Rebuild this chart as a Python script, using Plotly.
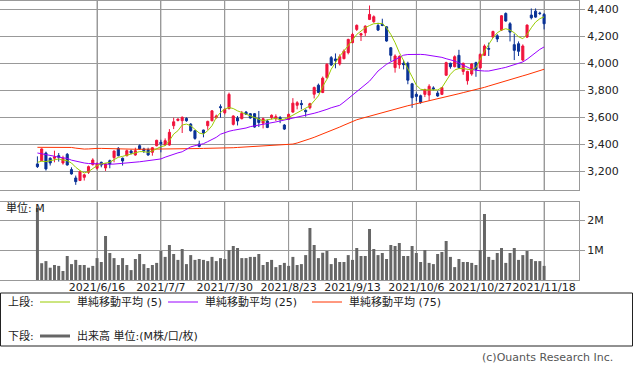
import plotly.graph_objects as go

# ---- data -------------------------------------------------------------
month_days = [
    (5, [27, 28, 31]),
    (6, [1, 2, 3, 4, 7, 8, 9, 10, 11, 14, 15, 16, 17, 18, 21, 22, 23, 24, 25, 28, 29, 30]),
    (7, [1, 2, 5, 6, 7, 8, 9, 12, 13, 14, 15, 16, 19, 20, 21, 26, 27, 28, 29, 30]),
    (8, [2, 3, 4, 5, 6, 10, 11, 12, 13, 16, 17, 18, 19, 20, 23, 24, 25, 26, 27, 30, 31]),
    (9, [1, 2, 3, 6, 7, 8, 9, 10, 13, 14, 15, 16, 17, 21, 22, 24, 27, 28, 29, 30]),
    (10, [1, 4, 5, 6, 7, 8, 11, 12, 13, 14, 15, 18, 19, 20, 21, 22, 25, 26, 27, 28, 29]),
    (11, [1, 2, 4, 5, 8, 9, 10, 11, 12, 15, 16, 17, 18]),
]
dates = [f"2021/{m}/{d}" for m, ds in month_days for d in ds]

tick_labels = ["2021/6/16", "2021/7/7", "2021/7/30", "2021/8/23",
               "2021/9/13", "2021/10/6", "2021/10/27", "2021/11/18"]

open_ = [3255, 3279, 3336, 3297, 3297, 3316, 3262, 3326, 3213, 3151,
         3132, 3156, 3193, 3250, 3223, 3267, 3225, 3279, 3302, 3370,
         3297, 3316, 3351, 3321, 3390, 3366, 3361, 3341, 3390, 3415,
         3395, 3395, 3538, 3577, 3575, 3592, 3550, 3501, 3402, 3506,
         3538, 3575, 3598, 3679, 3634, 3664, 3548, 3595, 3590, 3639,
         3627, 3627, 3590, 3557, 3573, 3598, 3590, 3598, 3543, 3585,
         3639, 3689, 3703, 3652, 3671, 3771, 3838, 3784, 3894, 4042,
         4032, 3995, 4034, 4079, 4153, 4251, 4209, 4226, 4325, 4308,
         4280, 4290, 4270, 4115, 3968, 3990, 4000, 4000, 3848, 3770,
         3760, 3770, 3765, 3818, 3780, 3770, 3912, 4000, 3975, 4059,
         3940, 3871, 3921, 4005, 3966, 4059, 4110, 4194, 4204, 4246,
         4369, 4293, 4138, 4145, 4024, 4194, 4357, 4386, 4372, 4362]
high = [3311, 3370, 3346, 3304, 3353, 3336, 3316, 3336, 3230, 3169,
        3206, 3181, 3243, 3297, 3267, 3272, 3262, 3287, 3353, 3380,
        3302, 3361, 3361, 3375, 3400, 3375, 3375, 3380, 3434, 3434,
        3444, 3513, 3597, 3592, 3607, 3600, 3557, 3506, 3427, 3508,
        3575, 3653, 3620, 3696, 3664, 3783, 3615, 3610, 3647, 3647,
        3632, 3632, 3647, 3598, 3585, 3622, 3622, 3610, 3550, 3627,
        3742, 3720, 3728, 3659, 3708, 3828, 3850, 3902, 4000, 4054,
        4073, 4066, 4103, 4182, 4226, 4288, 4226, 4281, 4428, 4355,
        4300, 4330, 4275, 4120, 4066, 4060, 4025, 4012, 3855, 3785,
        3768, 3812, 3845, 3830, 3795, 3825, 4012, 4005, 4059, 4100,
        4005, 3945, 4002, 4012, 4074, 4140, 4153, 4241, 4216, 4357,
        4377, 4305, 4219, 4162, 4140, 4288, 4406, 4406, 4382, 4372]
low = [3225, 3275, 3206, 3243, 3267, 3272, 3250, 3243, 3176, 3100,
       3129, 3132, 3181, 3243, 3213, 3230, 3203, 3223, 3267, 3311,
       3243, 3311, 3326, 3316, 3361, 3336, 3316, 3316, 3385, 3341,
       3390, 3390, 3513, 3570, 3484, 3567, 3494, 3434, 3378, 3452,
       3508, 3570, 3590, 3598, 3622, 3659, 3540, 3540, 3585, 3617,
       3590, 3523, 3528, 3518, 3520, 3585, 3573, 3557, 3506, 3580,
       3634, 3659, 3659, 3605, 3659, 3740, 3779, 3779, 3887, 3980,
       3963, 3983, 4030, 4066, 4148, 4239, 4165, 4202, 4320, 4300,
       4239, 4275, 4160, 4015, 3931, 3960, 3955, 3845, 3670, 3720,
       3700, 3750, 3722, 3800, 3752, 3765, 3907, 3960, 3970, 3960,
       3915, 3842, 3908, 3900, 3958, 4054, 4054, 4189, 4157, 4239,
       4308, 4162, 4024, 4054, 4015, 4187, 4325, 4337, 4357, 4251]
close = [3235, 3366, 3218, 3262, 3307, 3304, 3297, 3247, 3181, 3124,
         3198, 3174, 3235, 3284, 3255, 3247, 3255, 3255, 3351, 3316,
         3277, 3353, 3336, 3353, 3366, 3353, 3321, 3375, 3430, 3405,
         3427, 3489, 3567, 3587, 3600, 3575, 3501, 3444, 3385, 3484,
         3570, 3648, 3610, 3672, 3659, 3770, 3610, 3573, 3630, 3622,
         3595, 3528, 3561, 3590, 3525, 3615, 3605, 3585, 3513, 3622,
         3705, 3708, 3694, 3642, 3701, 3821, 3784, 3890, 3993, 3988,
         4020, 4049, 4091, 4177, 4214, 4281, 4219, 4275, 4362, 4345,
         4246, 4280, 4165, 4059, 4054, 4050, 3990, 3875, 3745, 3755,
         3710, 3805, 3830, 3810, 3758, 3820, 4005, 3975, 4049, 3968,
         4000, 3940, 3995, 3955, 4066, 4128, 4105, 4236, 4180, 4352,
         4313, 4231, 4096, 4089, 4128, 4283, 4337, 4342, 4369, 4293]

ma5 = [3267, 3275, 3272, 3279, 3284, 3292, 3284, 3279, 3262, 3230,
       3206, 3188, 3198, 3223, 3243, 3255, 3262, 3267, 3287, 3304,
       3311, 3321, 3329, 3336, 3346, 3346, 3341, 3351, 3366, 3383,
       3390, 3427, 3476, 3501, 3543, 3550, 3538, 3508, 3484, 3476,
       3501, 3538, 3599, 3636, 3661, 3673, 3665, 3648, 3636, 3624,
       3611, 3599, 3587, 3574, 3582, 3587, 3592, 3582, 3587, 3599,
       3616, 3636, 3648, 3665, 3685, 3722, 3759, 3828, 3882, 3956,
       4005, 4054, 4091, 4128, 4172, 4214, 4239, 4263, 4280, 4293,
       4295, 4295, 4263, 4214, 4153, 4079, 4020, 3965, 3900, 3838,
       3808, 3803, 3803, 3801, 3803, 3820, 3870, 3919, 3951, 3961,
       3961, 3956, 3951, 3968, 4030, 4091, 4140, 4189, 4226, 4246,
       4256, 4246, 4226, 4197, 4182, 4214, 4263, 4305, 4330, 4344]
ma25 = [3336, 3331, 3327, 3321, 3312, 3305, 3300, 3296, 3283, 3275,
        3267, 3262, 3258, 3256, 3255, 3254, 3252, 3253, 3254, 3256,
        3258, 3260, 3264, 3267, 3271, 3275, 3279, 3282, 3286, 3292,
        3305, 3316, 3329, 3337, 3345, 3366, 3381, 3390, 3395, 3405,
        3420, 3435, 3452, 3475, 3487, 3497, 3504, 3509, 3514, 3521,
        3531, 3536, 3541, 3546, 3553, 3561, 3566, 3573, 3580, 3585,
        3593, 3600, 3605, 3612, 3622, 3630, 3639, 3647, 3659, 3671,
        3681, 3689, 3713, 3738, 3765, 3794, 3819, 3844, 3868, 3905,
        3943, 3968, 3993, 4010, 4028, 4048, 4060, 4065, 4067, 4065,
        4066, 4064, 4059, 4059, 4052, 4044, 4034, 4027, 4017, 4002,
        3988, 3968, 3956, 3948, 3943, 3943, 3943, 3948, 3956, 3963,
        3970, 3980, 3990, 4000, 4010, 4030, 4054, 4084, 4103, 4121]
ma75 = [3378, 3378, 3378, 3378, 3378, 3378, 3377, 3377, 3377, 3372,
        3368, 3365, 3366, 3370, 3370, 3370, 3369, 3365, 3364, 3364,
        3363, 3363, 3363, 3363, 3363, 3364, 3364, 3364, 3364, 3365,
        3365, 3366, 3366, 3367, 3368, 3368, 3369, 3369, 3369, 3370,
        3370, 3370, 3370, 3371, 3372, 3373, 3375, 3377, 3379, 3381,
        3383, 3384, 3386, 3387, 3388, 3389, 3390, 3392, 3394, 3396,
        3402, 3410, 3419, 3430, 3441, 3452, 3464, 3476, 3489, 3502,
        3515, 3528, 3542, 3557, 3573, 3582, 3591, 3600, 3609, 3618,
        3627, 3636, 3645, 3654, 3663, 3671, 3679, 3686, 3693, 3700,
        3708, 3716, 3724, 3731, 3738, 3745, 3752, 3759, 3767, 3775,
        3783, 3790, 3798, 3806, 3813, 3822, 3832, 3842, 3851, 3860,
        3869, 3879, 3889, 3898, 3907, 3916, 3926, 3936, 3946, 3956]

volume_m = [2.40, 0.56, 0.63, 0.41, 0.50, 0.47, 0.30, 0.80, 0.53, 0.67,
            0.50, 0.50, 0.41, 0.47, 0.73, 0.60, 1.47, 0.90, 0.73, 0.50,
            0.73, 0.50, 0.33, 0.70, 0.87, 0.53, 0.40, 0.50, 0.57, 0.97,
            0.77, 1.17, 0.87, 0.67, 1.03, 0.53, 0.83, 0.67, 0.70, 0.67,
            0.63, 0.77, 0.63, 0.73, 0.70, 1.00, 1.13, 1.07, 0.73, 0.73,
            0.77, 0.77, 0.87, 0.50, 0.60, 0.67, 0.43, 0.50, 0.57, 0.47,
            0.77, 0.50, 0.53, 0.83, 1.73, 1.17, 0.73, 0.91, 0.97, 0.53,
            0.73, 0.60, 0.60, 0.83, 0.67, 1.07, 0.80, 0.80, 1.70, 1.03,
            0.83, 0.90, 0.70, 1.17, 1.13, 1.23, 0.80, 0.80, 1.13, 0.90,
            0.60, 1.00, 0.57, 0.53, 0.87, 0.93, 1.30, 0.77, 0.43, 0.70,
            0.60, 0.60, 0.57, 0.50, 1.00, 2.20, 0.77, 0.67, 0.90, 1.07,
            0.57, 0.90, 1.07, 0.67, 0.83, 0.97, 0.70, 0.63, 0.63, 0.47]

price_ticks = [3200, 3400, 3600, 3800, 4000, 4200, 4400]
vol_ticks = [1, 2]
vol_tick_text = ["1M", "2M"]

legend_upper = ["単純移動平均 (5)", "単純移動平均 (25)", "単純移動平均 (75)"]
legend_lower = "出来高 単位:(M株/口/枚)"

# ---- styling ----------------------------------------------------------
W, H = 633, 374
RED = "#f0143c"
BLUE = "#0a3296"
C5 = "#99cc00"
C25 = "#9900ff"
C75 = "#ff3300"
VOLC = "#666666"
GRID = "#999999"
FONT = "DejaVu Sans, Noto Sans CJK JP, sans-serif"

def px_x(x):
    return x / W

def px_y(y):
    return 1 - y / H

xr = [-8.79, 127.2]
xdom = [0, px_x(579)]

fig = go.Figure()
fig.add_trace(go.Candlestick(
    x=dates, open=open_, high=high, low=low, close=close,
    xaxis="x", yaxis="y",
    increasing=dict(line=dict(color=RED, width=1), fillcolor=RED),
    decreasing=dict(line=dict(color=BLUE, width=1), fillcolor=BLUE),
    whiskerwidth=0, showlegend=False, hoverinfo="skip"))
for vals, col in [(ma75, C75), (ma25, C25), (ma5, C5)]:
    fig.add_trace(go.Scatter(x=dates, y=vals, mode="lines",
                             line=dict(color=col, width=1),
                             xaxis="x", yaxis="y", showlegend=False,
                             hoverinfo="skip"))
fig.add_trace(go.Bar(x=dates, y=volume_m, xaxis="x2", yaxis="y2",
                     marker=dict(color=VOLC, line=dict(width=0)),
                     showlegend=False, hoverinfo="skip"))

axis_common = dict(showgrid=True, gridcolor=GRID, gridwidth=1,
                   showline=True, linecolor=GRID, linewidth=1, mirror=True,
                   zeroline=False, fixedrange=True, automargin=False)

fig.update_layout(
    template="none",
    width=W, height=H,
    margin=dict(l=0, r=0, t=0, b=0, pad=0),
    paper_bgcolor="white", plot_bgcolor="white",
    font=dict(family=FONT, size=11, color="#222222"),
    bargap=0.3,
    xaxis=dict(domain=xdom, range=xr, type="category", anchor="y",
               tickmode="array", tickvals=tick_labels, showticklabels=False,
               ticks="", rangeslider=dict(visible=False), **axis_common),
    yaxis=dict(domain=[px_y(190), px_y(0.5)], range=[3062, 4465], anchor="x",
               side="right", tickmode="array", tickvals=price_ticks,
               tickformat=",", ticks="outside", ticklen=5, tickcolor=GRID,
               tickfont=dict(size=11), **axis_common),
    xaxis2=dict(domain=xdom, range=xr, type="category", anchor="y2",
                matches="x", tickmode="array", tickvals=tick_labels,
                ticktext=tick_labels, ticks="", tickangle=0,
                ticklabelstandoff=-3,
                tickfont=dict(size=11), **axis_common),
    yaxis2=dict(domain=[px_y(280), px_y(201.7)], range=[0, 2.61], anchor="x2",
                side="right", tickmode="array", tickvals=vol_ticks,
                ticktext=vol_tick_text, ticks="outside", ticklen=5,
                tickcolor=GRID, tickfont=dict(size=11), **axis_common),
)

shapes = []
annotations = []
# vertical grid lines at labelled dates (both panels)
for d in tick_labels:
    for xa, yr in (("x", "y domain"), ("x2", "y2 domain")):
        shapes.append(dict(type="line", xref=xa, yref=yr, x0=d, x1=d,
                           y0=0, y1=1, layer="below",
                           line=dict(color=GRID, width=1)))
# legend box
shapes.append(dict(type="rect", xref="paper", yref="paper",
                   x0=px_x(0.5), x1=px_x(632.5), y0=px_y(346), y1=px_y(293),
                   line=dict(color="#222222", width=1), fillcolor="rgba(0,0,0,0)"))
row1, row2 = 302, 336
annotations.append(dict(text="上段:", x=px_x(6), y=px_y(row1)))
segs = [(40, 70, C5, 75), (168, 198, C25, 203), (312, 342, C75, 347)]
for (x0, x1, col, tx), lab in zip(segs, legend_upper):
    shapes.append(dict(type="line", xref="paper", yref="paper",
                       x0=px_x(x0), x1=px_x(x1), y0=px_y(row1), y1=px_y(row1),
                       line=dict(color=col, width=1)))
    annotations.append(dict(text=lab, x=px_x(tx), y=px_y(row1)))
annotations.append(dict(text="下段:", x=px_x(6), y=px_y(row2)))
shapes.append(dict(type="line", xref="paper", yref="paper",
                   x0=px_x(40), x1=px_x(70), y0=px_y(row2), y1=px_y(row2),
                   line=dict(color=VOLC, width=3)))
annotations.append(dict(text=legend_lower, x=px_x(75), y=px_y(row2)))
# unit label inside volume panel
annotations.append(dict(text="単位: M", x=px_x(4), y=px_y(208)))
for a in annotations:
    a.update(xref="paper", yref="paper", xanchor="left", yanchor="middle",
             showarrow=False)
# copyright
annotations.append(dict(text="(c)Ouants Research Inc.", x=px_x(615), y=px_y(357),
                        xref="paper", yref="paper", xanchor="right",
                        yanchor="middle", showarrow=False,
                        font=dict(size=11, color="#555555")))

fig.update_layout(shapes=shapes, annotations=annotations)
fig.write_html("out.html", config={"displayModeBar": False, "staticPlot": True},
               post_script="document.body.style.margin='0px';"
                           "document.body.style.overflow='hidden';")
